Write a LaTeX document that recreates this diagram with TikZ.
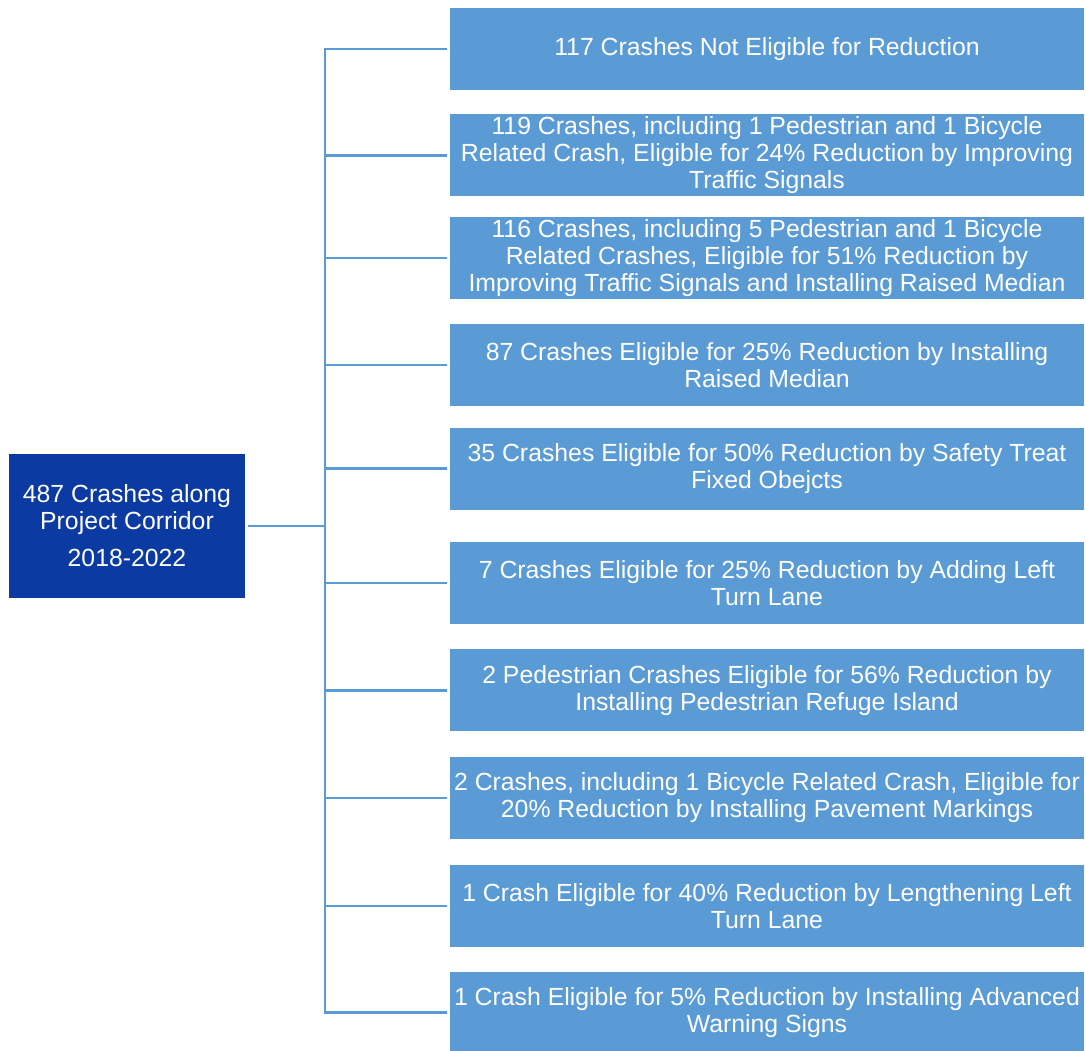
\documentclass[tikz,border=0pt]{standalone}
\usepackage{fontspec}
\setmainfont{Liberation Sans}
\usetikzlibrary{positioning}
\definecolor{leafblue}{RGB}{91,155,213}
\definecolor{rootblue}{RGB}{11,58,162}

\begin{document}
\begin{tikzpicture}[x=1pt,y=1pt,node distance=25pt]
\tikzstyle{leaf} = [rectangle, fill=leafblue, text=white, minimum width=634pt, minimum height=82pt, align=center, inner sep=0pt, font=\fontsize{24.8}{27}\selectfont]
\tikzstyle{root} = [rectangle, fill=rootblue, text=white, minimum width=236pt, minimum height=144pt, align=center, font=\fontsize{24.8}{27}\selectfont]
\tikzstyle{link} = [draw=leafblue, line width=2.5pt]
\useasboundingbox (0,0) rectangle (1086,-1051);
\node[root] (crashes) at (127,-526) {487 Crashes along\\Project Corridor\\[10pt]2018-2022};
\node[leaf] (r1) at (767,-49) {117 Crashes Not Eligible for Reduction};
\node[leaf][below=24pt of r1] (r2) {119 Crashes, including 1 Pedestrian and 1 Bicycle\\Related Crash, Eligible for 24\% Reduction by Improving\\Traffic Signals};
\node[leaf][below=20pt of r2] (r3) {116 Crashes, including 5 Pedestrian and 1 Bicycle\\Related Crashes, Eligible for 51\% Reduction by\\Improving Traffic Signals and Installing Raised Median};
\node[leaf][below=of r3] (r4) {87 Crashes Eligible for 25\% Reduction by Installing\\Raised Median};
\node[leaf][below=21pt of r4] (r5) {35 Crashes Eligible for 50\% Reduction by Safety Treat\\Fixed Obejcts};
\node[leaf][below=32pt of r5] (r6) {7 Crashes Eligible for 25\% Reduction by Adding Left\\Turn Lane};
\node[leaf][below=of r6] (r7) {2 Pedestrian Crashes Eligible for 56\% Reduction by\\Installing Pedestrian Refuge Island};
\node[leaf][below=of r7] (r8) {2 Crashes, including 1 Bicycle Related Crash, Eligible for\\20\% Reduction by Installing Pavement Markings};
\node[leaf][below=26pt of r8] (r9) {1 Crash Eligible for 40\% Reduction by Lengthening Left\\Turn Lane};
\node[leaf][below=24pt of r9] (r10) {1 Crash Eligible for 5\% Reduction by Installing Advanced\\Warning Signs};
\coordinate (trunk) at (325,-526);
\draw[link,shorten <=3pt] (crashes.east) -- (trunk);
\foreach \i in {1,...,10}
  \draw[link,shorten >=3pt] (trunk) |- (r\i.west);
\end{tikzpicture}
\end{document}
